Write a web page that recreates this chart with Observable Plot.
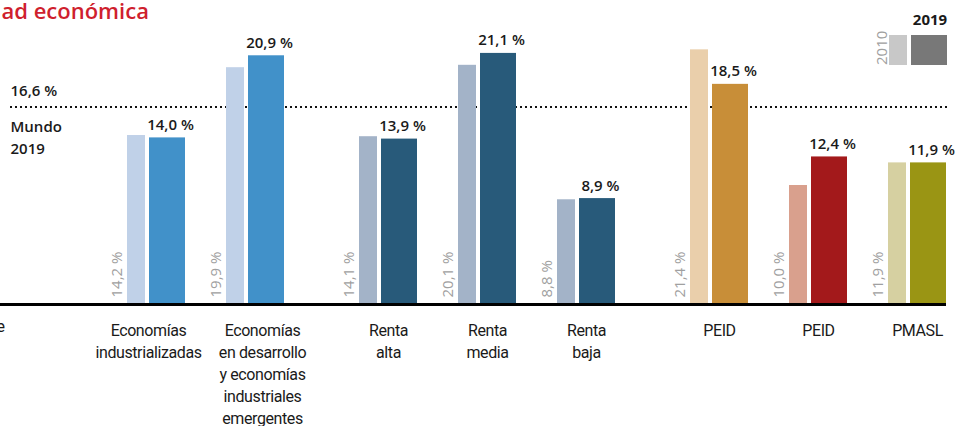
<!DOCTYPE html>
<html>
<head>
<meta charset="utf-8">
<script src="https://cdn.jsdelivr.net/npm/d3@7"></script>
<script src="https://cdn.jsdelivr.net/npm/@observablehq/plot@0.6"></script>
<style>
  html, body { margin: 0; padding: 0; background: #fff; overflow: hidden; }
  #wrap { position: relative; width: 955px; height: 426px; }
  .lg { position: absolute; font-family: "Open Sans", sans-serif; }
</style>
</head>
<body>
<div id="wrap"></div>
<script>
// ---- data ----
const categories = [
  "Economías\nindustrializadas",
  "Economías\nen desarrollo\ny economías\nindustriales\nemergentes",
  "Renta\nalta", "Renta\nmedia", "Renta\nbaja",
  "PEID", "PEID", "PMASL"
];
const sections = [1, 1, 2, 2, 2, 3, 3, 3];
const values2010 = [14.2, 19.9, 14.1, 20.1, 8.8, 21.4, 10.0, 11.9];
const values2019 = [14.0, 20.9, 13.9, 21.1, 8.9, 18.5, 12.4, 11.9];
const colors2010 = ["#c0d1e8", "#c0d1e8", "#a3b3c8", "#a3b3c8", "#a3b3c8", "#eacfab", "#d9a08d", "#d6d0a1"];
const colors2019 = ["#4191c9", "#4191c9", "#285a7a", "#285a7a", "#285a7a", "#c88e38", "#a3191b", "#9a9514"];
const worldValue = 16.6;
const worldLabel = "Mundo\n2019";
const titleText = "ad económica";
const legendYears = ["2010", "2019"];

// ---- layout ----
const W = 955, H = 426, baseY = 304, pxPerUnit = 11.9;
const step = 99, firstLeft = 127, sectionGap = 34;
const lightW = 18, gapW = 4, darkW = 36;
const u = px => px / step;
const fmt = v => v.toFixed(1).replace(".", ",") + " %";
const labelShift = [-8, 7, 0, 0, 0, 0, 0, 0];
const catFont = "Roboto, sans-serif";

const data = categories.map((c, i) => {
  const pos = i + u(sectionGap) * (sections[i] - 1);
  return {
    label: c, pos,
    v10: values2010[i], v19: values2019[i],
    c10: colors2010[i], c19: colors2019[i],
    lx1: pos, lx2: pos + u(lightW),
    dx1: pos + u(lightW + gapW), dx2: pos + u(lightW + gapW + darkW),
    center: pos + u((lightW + gapW + darkW) / 2) + u(labelShift[i])
  };
});

const plot = Plot.plot({
  width: W, height: H,
  marginLeft: 0, marginRight: 0, marginTop: 0, marginBottom: H - baseY,
  x: { type: "linear", domain: [u(-firstLeft), u(W - firstLeft)], axis: null },
  y: { domain: [0, baseY / pxPerUnit], axis: null },
  color: { type: "identity" },
  style: { background: "transparent", overflow: "visible" },
  marks: [
    Plot.ruleY([worldValue], { stroke: "#111", strokeWidth: 2, strokeDasharray: "2,3", insetLeft: 10, insetRight: 8 }),
    Plot.rectY(data, { x1: "lx1", x2: "lx2", y1: 0, y2: "v10", fill: "c10" }),
    Plot.rectY(data, { x1: "dx1", x2: "dx2", y1: 0, y2: "v19", fill: "c19" }),
    Plot.ruleY([0], { stroke: "#000", strokeWidth: 3, insetRight: 9 }),
    // 2019 value labels
    Plot.text(data, {
      x: d => (d.dx1 + d.dx2) / 2, y: "v19", text: d => fmt(d.v19),
      dx: 3, dy: -8, lineAnchor: "bottom",
      fontFamily: "Open Sans", fontWeight: 600, fontSize: 15, fill: "#1a1a1a"
    }),
    // 2010 rotated labels
    Plot.text(data, {
      x: "lx1", y: d => 0, text: d => fmt(d.v10), rotate: -90,
      textAnchor: "start", lineAnchor: "middle", dx: -10, dy: -7,
      fontFamily: "Open Sans", fontSize: 15, fill: "#a0a0a0"
    }),
    // category labels
    Plot.text(data, {
      x: "center", y: d => 0, text: "label", lineAnchor: "top", dy: 16,
      lineHeight: 1.375, fontFamily: catFont, fontSize: 16, fill: "#1a1a1a"
    }),
    // cut-off label fragment at left edge
    Plot.text(["e"], {
      frameAnchor: "bottom-left", text: d => d, lineAnchor: "top", textAnchor: "start", dx: -4, dy: 16,
      fontFamily: catFont, fontSize: 16, fill: "#1a1a1a"
    }),
    // world reference labels
    Plot.text([worldValue], {
      y: d => d, frameAnchor: "left", text: fmt, textAnchor: "start", lineAnchor: "bottom",
      dx: 10, dy: -11, fontFamily: "Open Sans", fontWeight: 600, fontSize: 15, fill: "#1a1a1a"
    }),
    Plot.text([worldValue], {
      y: d => d, frameAnchor: "left", text: d => worldLabel, textAnchor: "start", lineAnchor: "top",
      dx: 10, dy: 10, lineHeight: 1.45, fontFamily: "Open Sans", fontWeight: 600, fontSize: 15, fill: "#1a1a1a"
    }),
    // title fragment
    Plot.text([titleText], {
      frameAnchor: "top-left", text: d => d, textAnchor: "start", lineAnchor: "top",
      dx: 1, dy: 3, fontFamily: "Open Sans", fontWeight: 600, fontSize: 22, fill: "#cf1f2e"
    })
  ]
});

// tighten the category label letter spacing to mimic the condensed face
d3.select(plot).selectAll('g[font-size="16"]').attr("letter-spacing", "-0.4");

const wrap = document.getElementById("wrap");
wrap.appendChild(plot);

// legend (HTML overlay)
const legend = [
  { left: 889, top: 35, w: 18, h: 30, color: "#c8c8c8" },
  { left: 911, top: 35, w: 36, h: 30, color: "#787878" }
];
legend.forEach(b => {
  const d = document.createElement("div");
  d.className = "lg";
  Object.assign(d.style, { left: b.left + "px", top: b.top + "px", width: b.w + "px", height: b.h + "px", background: b.color });
  wrap.appendChild(d);
});
const t10 = document.createElement("div");
t10.className = "lg";
t10.textContent = legendYears[0];
Object.assign(t10.style, { left: "864px", top: "40px", width: "34px", textAlign: "center", fontSize: "15px", color: "#a0a0a0", transform: "rotate(-90deg)", lineHeight: "16px" });
wrap.appendChild(t10);
const t19 = document.createElement("div");
t19.className = "lg";
t19.textContent = legendYears[1];
Object.assign(t19.style, { left: "910px", top: "9px", width: "40px", textAlign: "center", fontSize: "15px", fontWeight: "700", color: "#1a1a1a", lineHeight: "20px" });
wrap.appendChild(t19);
</script>
</body>
</html>
